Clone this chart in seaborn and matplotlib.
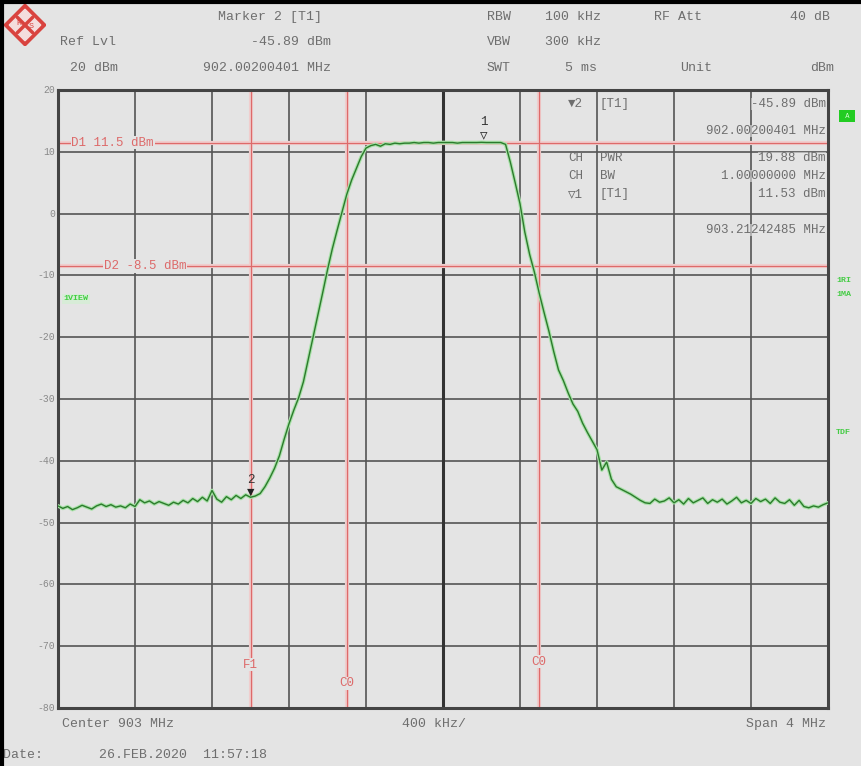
import numpy as np
import pandas as pd
import matplotlib
matplotlib.use("Agg")
import matplotlib.pyplot as plt
import seaborn as sns

# sweep: 161 points from 901 to 905 MHz
freq_mhz = np.linspace(901.0, 905.0, 161)
level_dbm = [
    -47.3, -47.7, -47.4, -47.9, -47.6, -47.2, -47.5, -47.8, -47.3, -47.0,
    -47.4, -47.1, -47.5, -47.3, -47.6, -47.0, -47.4, -46.3, -46.8, -46.5,
    -47.0, -46.6, -46.9, -47.2, -46.7, -47.0, -46.4, -46.8, -46.1, -46.6,
    -45.9, -46.5, -44.8, -46.2, -46.7, -45.8, -46.3, -45.6, -46.1, -45.5,
    -45.9, -45.7, -45.3, -44.2, -42.8, -41.2, -39.2, -36.5, -34.0, -31.8,
    -29.8, -27.2, -23.6, -20.0, -16.4, -12.8, -9.1, -5.7, -2.7, 0.2,
    3.1, 5.4, 7.3, 9.2, 10.6, 11.0, 11.2, 10.9, 11.3, 11.2,
    11.4, 11.3, 11.4, 11.4, 11.5, 11.4, 11.5, 11.5, 11.4, 11.5,
    11.5, 11.5, 11.5, 11.4, 11.5, 11.5, 11.5, 11.5, 11.53, 11.5,
    11.5, 11.5, 11.5, 11.2, 8.3, 5.0, 1.6, -3.0, -6.6, -9.5,
    -12.9, -16.0, -19.0, -22.3, -25.3, -27.0, -29.0, -30.8, -32.0, -33.9,
    -35.4, -36.8, -38.2, -41.5, -40.2, -43.0, -44.2, -44.6, -45.0, -45.4,
    -45.9, -46.4, -46.8, -46.9, -46.2, -46.7, -46.5, -46.0, -46.8, -46.3,
    -47.0, -46.1, -46.8, -46.4, -46.0, -46.9, -46.3, -46.7, -46.2, -47.0,
    -46.5, -45.9, -46.8, -46.4, -46.9, -46.1, -46.6, -46.2, -46.9, -46.0,
    -46.7, -46.9, -46.3, -47.2, -46.4, -47.4, -47.6, -47.3, -47.5, -47.1,
    -46.8,
]

# display lines / markers
d_lines = [11.5, -8.5]
d_labels = ["D1 11.5 dBm", "D2 -8.5 dBm"]
f1_line = 902.0
c0_lines = [902.5, 903.5]
marker_freq = [903.21242485, 902.00200401]
marker_level = [11.53, -45.89]
y_ticks = [20, 10, 0, -10, -20, -30, -40, -50, -60, -70, -80]

header_rows = [
    [("Marker 2 [T1]", 218, "left"), ("RBW", 487, "left"), ("100 kHz", 545, "left"),
     ("RF Att", 654, "left"), ("40 dB", 790, "left")],
    [("Ref Lvl", 60, "left"), ("-45.89 dBm", 331, "right"), ("VBW", 487, "left"),
     ("300 kHz", 545, "left")],
    [("20 dBm", 70, "left"), ("902.00200401 MHz", 331, "right"), ("SWT", 487, "left"),
     ("5 ms", 565, "left"), ("Unit", 680, "left"), ("dBm", 810, "left")],
]
marker_box = [
    ("\u25BC2", "[T1]", "-45.89 dBm"),
    ("", "", "902.00200401 MHz"),
    ("CH", "PWR", "19.88 dBm"),
    ("CH", "BW", "1.00000000 MHz"),
    ("\u25BD1", "[T1]", "11.53 dBm"),
    ("", "", "903.21242485 MHz"),
]

bg = "#e4e4e4"
grid_c = "#555555"
red = "#dd6a6a"
pink = "#f0cdcd"
green = "#2c7a2c"
txt_c = "#6e6e6e"

sns.set_theme(style="white", rc={"figure.facecolor": bg, "axes.facecolor": bg})
plt.rcParams["font.family"] = ["Liberation Mono", "DejaVu Sans Mono"]

W, H = 862, 766
fig = plt.figure(figsize=(W / 100, H / 100), dpi=100)
L, R, T, B = 58, 828, 90, 708
ax = fig.add_axes([L / W, 1 - B / H, (R - L) / W, (B - T) / H])

df = pd.DataFrame({"freq": freq_mhz, "level": level_dbm})

ax.set_xlim(901.0, 905.0)
ax.set_ylim(-80, 20)
ax.set_xticks(np.arange(901.0, 905.01, 0.4))
ax.set_yticks(y_ticks)
ax.grid(True, color=grid_c, lw=1.2)
ax.axvline(903.0, color="#333333", lw=2.2, zorder=1)
ax.set_xticklabels([])
ax.set_yticklabels([])
ax.tick_params(length=0)
for s in ax.spines.values():
    s.set_color("#444444")
    s.set_linewidth(2.2)

for yt in y_ticks:
    ax.text(-0.004, yt, str(yt), transform=ax.get_yaxis_transform(), ha="right",
            va="center", fontsize=7, color="#8a8a8a")

# display lines
for v in d_lines:
    ax.axhline(v, color=pink, lw=3, zorder=1.5)
    ax.axhline(v, color=red, lw=0.9, zorder=1.6)
for xv in [f1_line] + c0_lines:
    ax.axvline(xv, color=pink, lw=3, zorder=1.5)
    ax.axvline(xv, color=red, lw=0.9, zorder=1.6)

ax.text(901.07, d_lines[0], d_labels[0], color=red, fontsize=9, va="center",
        bbox=dict(facecolor=bg, edgecolor="none", pad=0.5), zorder=2)
ax.text(901.24, d_lines[1], d_labels[1], color=red, fontsize=9, va="center",
        bbox=dict(facecolor=bg, edgecolor="none", pad=0.5), zorder=2)
ax.text(f1_line, -73, "F1", color=red, fontsize=9, ha="center", va="center",
        bbox=dict(facecolor=bg, edgecolor="none", pad=0.5), zorder=2)
ax.text(c0_lines[0], -76, "C0", color=red, fontsize=9, ha="center", va="center",
        bbox=dict(facecolor=bg, edgecolor="none", pad=0.5), zorder=2)
ax.text(c0_lines[1], -72.5, "C0", color=red, fontsize=9, ha="center", va="center",
        bbox=dict(facecolor=bg, edgecolor="none", pad=0.5), zorder=2)
ax.text(0.007, -13.8, "1VIEW", color="#3fcf3f", fontsize=6, fontweight="bold",
        transform=ax.get_yaxis_transform(), va="center",
        bbox=dict(facecolor="#d7ecd7", edgecolor="none", pad=1), zorder=2)

# trace
sns.lineplot(data=df, x="freq", y="level", ax=ax, color="#a8e2a8", lw=2.6, zorder=3)
sns.lineplot(data=df, x="freq", y="level", ax=ax, color=green, lw=1.0, zorder=4)
ax.set_xlabel("")
ax.set_ylabel("")

# markers
ax.annotate("\u25BD", (marker_freq[0], marker_level[0]), xytext=(0, 1),
            textcoords="offset points", ha="center", va="bottom", fontsize=9,
            color="#333333", zorder=5)
ax.annotate("1", (marker_freq[0], marker_level[0]), xytext=(0, 10),
            textcoords="offset points", ha="center", va="bottom", fontsize=9,
            color="#333333", zorder=5)
ax.annotate("\u25BC", (marker_freq[1], marker_level[1]), xytext=(0, -1),
            textcoords="offset points", ha="center", va="bottom", fontsize=9,
            color="#222222", zorder=5)
ax.annotate("2", (marker_freq[1], marker_level[1]), xytext=(0, 8),
            textcoords="offset points", ha="center", va="bottom", fontsize=9,
            color="#333333", zorder=5)

# marker info box, top right of the grid
box_y = [104, 131, 158, 176, 194, 230]
for (a, b, c), yy in zip(marker_box, box_y):
    fy = 1 - yy / H
    if a:
        fig.text(568 / W, fy, a, fontsize=9, color=txt_c, va="center")
        fig.text(600 / W, fy, b, fontsize=9, color=txt_c, va="center")
    fig.text(826 / W, fy, c, fontsize=9, color=txt_c, va="center", ha="right",
             bbox=dict(facecolor=bg, edgecolor="none", pad=0.2, alpha=0.6))

# header
for row, yy in zip(header_rows, [17, 42, 68]):
    for s, xx, ha in row:
        fig.text(xx / W, 1 - yy / H, s, fontsize=9.5, color=txt_c, ha=ha, va="center")

# bottom labels
fig.text(62 / W, 1 - 724 / H, "Center 903 MHz", fontsize=9.5, color=txt_c, va="center")
fig.text(402 / W, 1 - 724 / H, "400 kHz/", fontsize=9.5, color=txt_c, va="center")
fig.text(826 / W, 1 - 724 / H, "Span 4 MHz", fontsize=9.5, color=txt_c, va="center", ha="right")
fig.text(3 / W, 1 - 755 / H, "Date:       26.FEB.2020  11:57:18", fontsize=9.5,
         color=txt_c, va="center")

# right side indicators
fig.text(847 / W, 1 - 116 / H, " A ", fontsize=5, color="#d8ffd8", ha="center",
         va="center", bbox=dict(facecolor="#22cc22", edgecolor="none", pad=1.5))
for s, yy in [("1RI", 280), ("1MA", 295), ("TDF", 432)]:
    fig.text(836 / W, 1 - yy / H, s, fontsize=6, color="#44cc44", fontweight="bold",
             va="center")

# R&S diamond logo
logo = fig.add_axes([4 / W, 1 - 46 / H, 42 / W, 42 / H])
logo.set_xlim(-1, 1)
logo.set_ylim(-1, 1)
logo.axis("off")
logo.fill([0, 1, 0, -1, 0], [1, 0, -1, 0, 1], color="#d9433f")
logo.fill([0, 0.75, 0, -0.75, 0], [0.75, 0, -0.75, 0, 0.75], color="#f4dede")
logo.plot([-0.37, 0.37], [0.37, -0.37], color="#d9433f", lw=2.5)
logo.plot([-0.37, 0.37], [-0.37, 0.37], color="#d9433f", lw=2.5)
logo.text(-0.3, 0.05, "R", fontsize=6, color="#d9433f", ha="center", va="center")
logo.text(0.3, -0.05, "S", fontsize=6, color="#d9433f", ha="center", va="center")

# black screen frame on top and left
fig.add_artist(plt.Line2D([0.002, 0.002], [0, 1], color="black", lw=3))
fig.add_artist(plt.Line2D([0, 1], [0.998, 0.998], color="black", lw=3))

fig.savefig("out.png", dpi=100, facecolor=bg)
